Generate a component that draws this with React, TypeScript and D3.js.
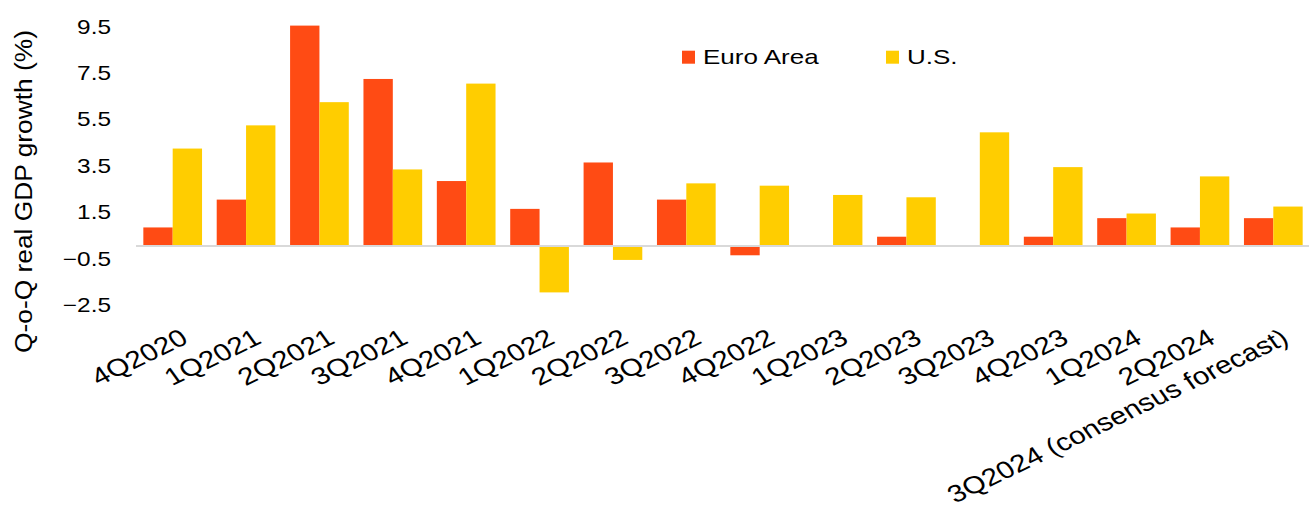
import React from "react";
import * as d3 from "d3";

const categories = [
  "4Q2020", "1Q2021", "2Q2021", "3Q2021", "4Q2021", "1Q2022", "2Q2022", "3Q2022",
  "4Q2022", "1Q2023", "2Q2023", "3Q2023", "4Q2023", "1Q2024", "2Q2024",
  "3Q2024 (consensus forecast)",
];
const euroArea = [0.8, 2.0, 9.5, 7.2, 2.8, 1.6, 3.6, 2.0, -0.4, 0.0, 0.4, 0.0, 0.4, 1.2, 0.8, 1.2];
const us = [4.2, 5.2, 6.2, 3.3, 7.0, -2.0, -0.6, 2.7, 2.6, 2.2, 2.1, 4.9, 3.4, 1.4, 3.0, 1.7];
const seriesNames = ["Euro Area", "U.S."];
const seriesColors = ["#FF4B14", "#FFCD00"];
const yTicks = [9.5, 7.5, 5.5, 3.5, 1.5, -0.5, -2.5];
const yTitle = "Q-o-Q real GDP growth (%)";

const W = 1309;
const H = 509;
const FONT = "'Liberation Sans', Arial, sans-serif";

export default function App() {
  const x0 = d3.scaleBand<string>().domain(categories).range([136, 1310]).paddingInner(0.2).paddingOuter(0.1);
  const x1 = d3.scaleBand<string>().domain(seriesNames).range([0, x0.bandwidth()]).padding(0);
  const y = d3.scaleLinear().domain([-2.5, 9.5]).range([304, 25.6]);
  const data = [euroArea, us];

  return (
    <svg width={W} height={H} style={{ position: "absolute", left: 0, top: 0, background: "#fff" }} fontFamily={FONT}>
      {/* bars */}
      {categories.map((c, i) => (
        <g key={c}>
          {seriesNames.map((s, j) => {
            const v = data[j][i];
            if (v === 0) return null;
            const yv = y(v);
            const y0 = y(0);
            return (
              <rect
                key={s}
                x={(x0(c) ?? 0) + (x1(s) ?? 0)}
                y={Math.min(yv, y0)}
                width={x1.bandwidth()}
                height={Math.abs(y0 - yv)}
                fill={seriesColors[j]}
              />
            );
          })}
        </g>
      ))}
      {/* zero line */}
      <line x1={136} x2={W} y1={y(0)} y2={y(0)} stroke="#d9d9d9" strokeWidth={2} />
      {/* y tick labels */}
      {yTicks.map((t) => (
        <text
          key={t}
          transform={`translate(111,${y(t) + 1}) scale(1.22,1)`}
          textAnchor="end"
          dy="0.35em"
          fontSize={20}
          fill="#000"
        >
          {d3.format(".1f")(t)}
        </text>
      ))}
      {/* y title */}
      <text
        transform={`translate(32,191.5) rotate(-90)`}
        textAnchor="middle"
        fontSize={23}
        textLength={323}
        lengthAdjust="spacingAndGlyphs"
        fill="#000"
      >
        {yTitle}
      </text>
      {/* x labels */}
      {categories.map((c) => {
        const cx = (x0(c) ?? 0) + x0.bandwidth() / 2;
        return (
          <text
            key={c}
            transform={`translate(${cx + 17},342.4) scale(1.22,1) rotate(-30.4)`}
            textAnchor="end"
            fontSize={24.3}
            fill="#000"
          >
            {c}
          </text>
        );
      })}
      {/* legend */}
      {seriesNames.map((s, j) => {
        const lx = [682, 886][j];
        return (
          <g key={s}>
            <rect x={lx} y={50.7} width={13} height={13} fill={seriesColors[j]} />
            <text transform={`translate(${lx + 21},64) scale(1.3,1)`} fontSize={20} fill="#000">
              {s}
            </text>
          </g>
        );
      })}
    </svg>
  );
}
